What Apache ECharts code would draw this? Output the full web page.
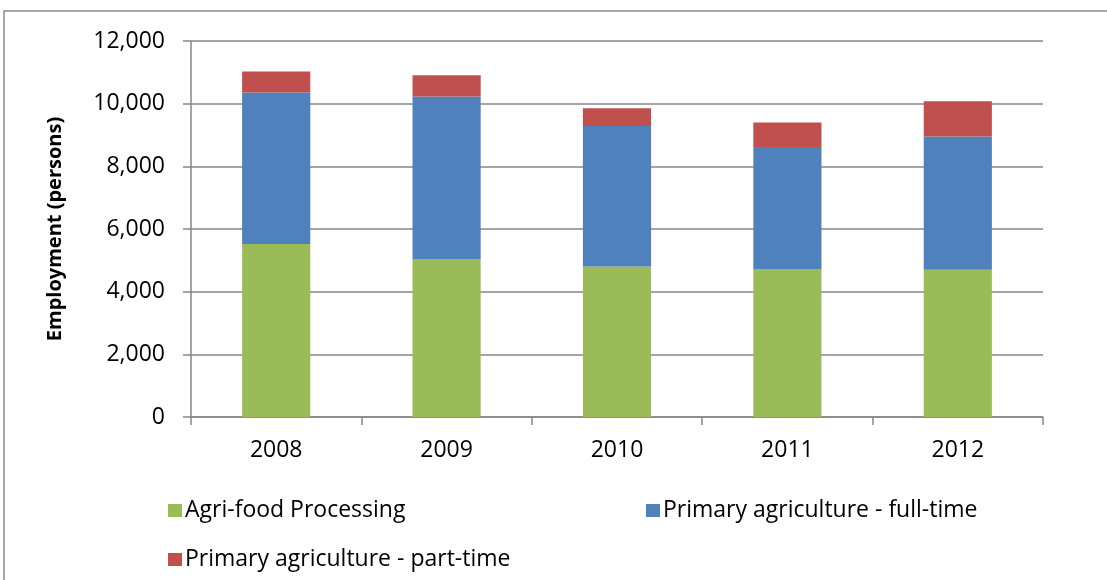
<!DOCTYPE html>
<html>
<head>
<meta charset="utf-8">
<script src="https://cdn.jsdelivr.net/npm/echarts@6/dist/echarts.min.js"></script>
<style>html,body{margin:0;padding:0;background:#fff}#c{width:1107px;height:580px}</style>
</head>
<body>
<div id="c"></div>
<script>
const years = ['2008', '2009', '2010', '2011', '2012'];
const agriFood = [5520, 5040, 4800, 4720, 4700];
const fullTime = [4840, 5190, 4485, 3900, 4250];
const partTime = [670, 680, 570, 780, 1130];
const seriesNames = ['Agri-food Processing', 'Primary agriculture - full-time', 'Primary agriculture - part-time'];
const colors = ['#9BBB59', '#4F81BD', '#C0504D'];
const FONT = 'Open Sans';

const chart = echarts.init(document.getElementById('c'));
function leg(name, left, top) {
  return {
    data: [name], left: left, top: top, orient: 'horizontal', padding: 0,
    icon: 'rect', itemWidth: 14, itemHeight: 13, itemGap: 5,
    textStyle: { fontFamily: FONT, fontSize: 23, color: '#000', padding: [0, 0, 0, -2] },
    selectedMode: false
  };
}
chart.setOption({
  animation: false,
  color: colors,
  graphic: [{
    type: 'rect', shape: { x: 4, y: 11, width: 1200, height: 700 },
    style: { fill: 'none', stroke: '#8a8a8a', lineWidth: 1.5 }, silent: true
  }],
  legend: [leg(seriesNames[0], 168, 499), leg(seriesNames[1], 646, 499), leg(seriesNames[2], 168, 548)],
  grid: { left: 191, right: 64, top: 41, bottom: 163 },
  xAxis: {
    type: 'category', data: years,
    axisLine: { lineStyle: { color: '#878787', width: 1.5 } },
    axisTick: { show: true, length: 8, interval: 0, lineStyle: { color: '#878787', width: 1.5 } },
    axisLabel: { fontFamily: FONT, fontSize: 23, color: '#000', margin: 22 }
  },
  yAxis: {
    type: 'value', min: 0, max: 12000, interval: 2000,
    name: 'Employment (persons)', nameLocation: 'middle', nameGap: 126, nameRotate: 90,
    nameTextStyle: { fontFamily: FONT, fontSize: 20, fontWeight: 'bold', color: '#000' },
    axisLine: { show: true, lineStyle: { color: '#878787', width: 1.5 } },
    axisTick: { show: true, length: 8, lineStyle: { color: '#878787', width: 1.5 } },
    splitLine: { lineStyle: { color: '#878787', width: 1.5 } },
    axisLabel: {
      fontFamily: FONT, fontSize: 23, color: '#000', margin: 26,
      formatter: v => v.toLocaleString('en-US')
    }
  },
  series: [
    { name: seriesNames[0], type: 'bar', stack: 's', data: agriFood, barWidth: '40%' },
    { name: seriesNames[1], type: 'bar', stack: 's', data: fullTime, barWidth: '40%' },
    { name: seriesNames[2], type: 'bar', stack: 's', data: partTime, barWidth: '40%' }
  ]
});
</script>
</body>
</html>
